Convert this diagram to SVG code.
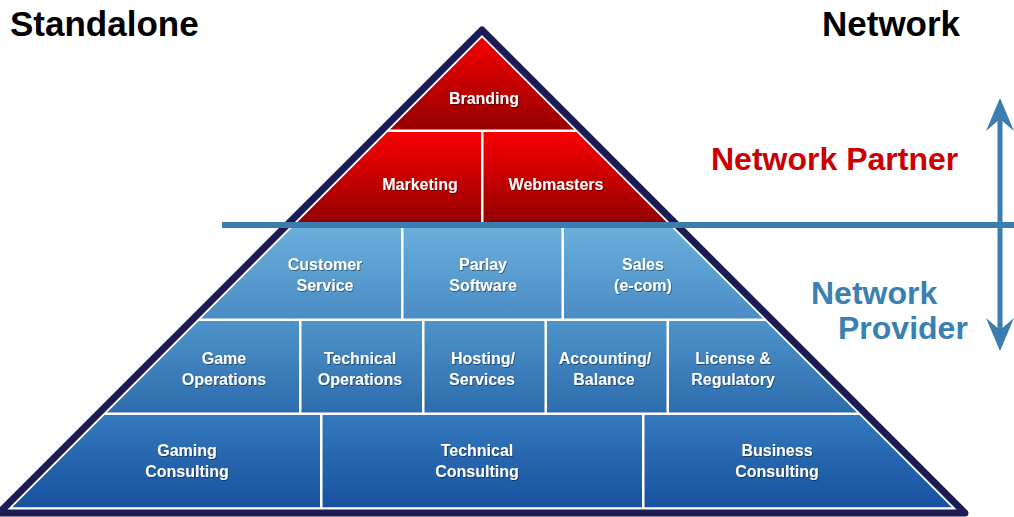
<svg xmlns="http://www.w3.org/2000/svg" width="1014" height="517" viewBox="0 0 1014 517">
<style>
.title{font-family:"Liberation Sans",Arial,sans-serif;font-weight:bold;font-size:35px;fill:#000}
.side{font-family:"Liberation Sans",Arial,sans-serif;font-weight:bold;font-size:32px}
.lbl{font-family:"Liberation Sans",Arial,sans-serif;font-weight:bold;font-size:16px;fill:#fff;text-anchor:middle}
.arrow{fill:#3a7dae}
</style>
<defs>
<linearGradient id="gRed1" x1="0" y1="0" x2="0" y2="1"><stop offset="0" stop-color="#f40000"/><stop offset="1" stop-color="#960000"/></linearGradient>
<linearGradient id="gRed2" x1="0" y1="0" x2="0" y2="1"><stop offset="0" stop-color="#fa0000"/><stop offset="1" stop-color="#950000"/></linearGradient>
<linearGradient id="gB1" x1="0" y1="0" x2="0" y2="1"><stop offset="0" stop-color="#6aaedb"/><stop offset="1" stop-color="#4a8cc4"/></linearGradient>
<linearGradient id="gB2" x1="0" y1="0" x2="0" y2="1"><stop offset="0" stop-color="#4e93ca"/><stop offset="1" stop-color="#2d6cad"/></linearGradient>
<linearGradient id="gB3" x1="0" y1="0" x2="0" y2="1"><stop offset="0" stop-color="#3479bd"/><stop offset="1" stop-color="#18519e"/></linearGradient>
<clipPath id="inner"><polygon points="482,37.5 12,507.5 952,507.5"/></clipPath>
<filter id="sh" x="-10%" y="-30%" width="120%" height="160%"><feDropShadow dx="0.8" dy="1" stdDeviation="0.6" flood-color="#000" flood-opacity="0.45"/></filter>
</defs>

<text class="title" x="10" y="36">Standalone</text>
<text class="title" x="822" y="36">Network</text>

<g id="pyramid-frame">
<polygon points="482,30 -1,513 965,513" fill="#fff" stroke="#1b1b55" stroke-width="7" stroke-linejoin="round"/>
</g>

<g clip-path="url(#inner)">
<g id="branding"><rect x="0" y="37" width="1014" height="92.5" fill="url(#gRed1)"/><text class="lbl" filter="url(#sh)" x="484" y="104">Branding</text></g>
<g id="marketing"><rect x="0" y="132" width="481" height="90" fill="url(#gRed2)"/><text class="lbl" filter="url(#sh)" x="420" y="190">Marketing</text></g>
<g id="webmasters"><rect x="483.5" y="132" width="530.5" height="90" fill="url(#gRed2)"/><text class="lbl" filter="url(#sh)" x="556" y="190">Webmasters</text></g>

<g id="customer-service"><rect x="0" y="228" width="401" height="90.5" fill="url(#gB1)"/><text class="lbl" filter="url(#sh)" x="325" y="270">Customer</text><text class="lbl" filter="url(#sh)" x="325" y="291">Service</text></g>
<g id="parlay-software"><rect x="403.5" y="228" width="158" height="90.5" fill="url(#gB1)"/><text class="lbl" filter="url(#sh)" x="483" y="270">Parlay</text><text class="lbl" filter="url(#sh)" x="483" y="291">Software</text></g>
<g id="sales"><rect x="564" y="228" width="450" height="90.5" fill="url(#gB1)"/><text class="lbl" filter="url(#sh)" x="643" y="270">Sales</text><text class="lbl" filter="url(#sh)" x="643" y="291">(e-com)</text></g>

<g id="game-operations"><rect x="0" y="321" width="299" height="91.5" fill="url(#gB2)"/><text class="lbl" filter="url(#sh)" x="224" y="364">Game</text><text class="lbl" filter="url(#sh)" x="224" y="385">Operations</text></g>
<g id="technical-operations"><rect x="301.5" y="321" width="120.5" height="91.5" fill="url(#gB2)"/><text class="lbl" filter="url(#sh)" x="360" y="364">Technical</text><text class="lbl" filter="url(#sh)" x="360" y="385">Operations</text></g>
<g id="hosting-services"><rect x="424.5" y="321" width="120" height="91.5" fill="url(#gB2)"/><text class="lbl" filter="url(#sh)" x="483" y="364">Hosting/</text><text class="lbl" filter="url(#sh)" x="482" y="385">Services</text></g>
<g id="accounting-balance"><rect x="547" y="321" width="119.5" height="91.5" fill="url(#gB2)"/><text class="lbl" filter="url(#sh)" x="605" y="364">Accounting/</text><text class="lbl" filter="url(#sh)" x="604" y="385">Balance</text></g>
<g id="license-regulatory"><rect x="669" y="321" width="345" height="91.5" fill="url(#gB2)"/><text class="lbl" filter="url(#sh)" x="733" y="364">License &amp;</text><text class="lbl" filter="url(#sh)" x="733" y="385">Regulatory</text></g>

<g id="gaming-consulting"><rect x="0" y="415" width="320" height="92.5" fill="url(#gB3)"/><text class="lbl" filter="url(#sh)" x="187" y="456">Gaming</text><text class="lbl" filter="url(#sh)" x="187" y="477">Consulting</text></g>
<g id="technical-consulting"><rect x="322.5" y="415" width="319.5" height="92.5" fill="url(#gB3)"/><text class="lbl" filter="url(#sh)" x="477" y="456">Technical</text><text class="lbl" filter="url(#sh)" x="477" y="477">Consulting</text></g>
<g id="business-consulting"><rect x="644.5" y="415" width="369.5" height="92.5" fill="url(#gB3)"/><text class="lbl" filter="url(#sh)" x="777" y="456">Business</text><text class="lbl" filter="url(#sh)" x="777" y="477">Consulting</text></g>
</g>

<g id="connectors">
<rect x="222" y="222" width="792" height="6" fill="#3a7dae"/>
<line x1="1000" y1="115" x2="1000" y2="334" stroke="#3a7dae" stroke-width="5"/>
<polygon class="arrow" points="1000,98 1014,131 1000,119 986,131"/>
<polygon class="arrow" points="1000,351 1014,318 1000,330 986,318"/>
</g>

<g id="labels">
<text class="side" x="711" y="170" fill="#cc0000">Network Partner</text>
<text class="side" x="811" y="304" fill="#3a80b0">Network</text>
<text class="side" x="838" y="339" fill="#3a80b0">Provider</text>
</g>
</svg>
